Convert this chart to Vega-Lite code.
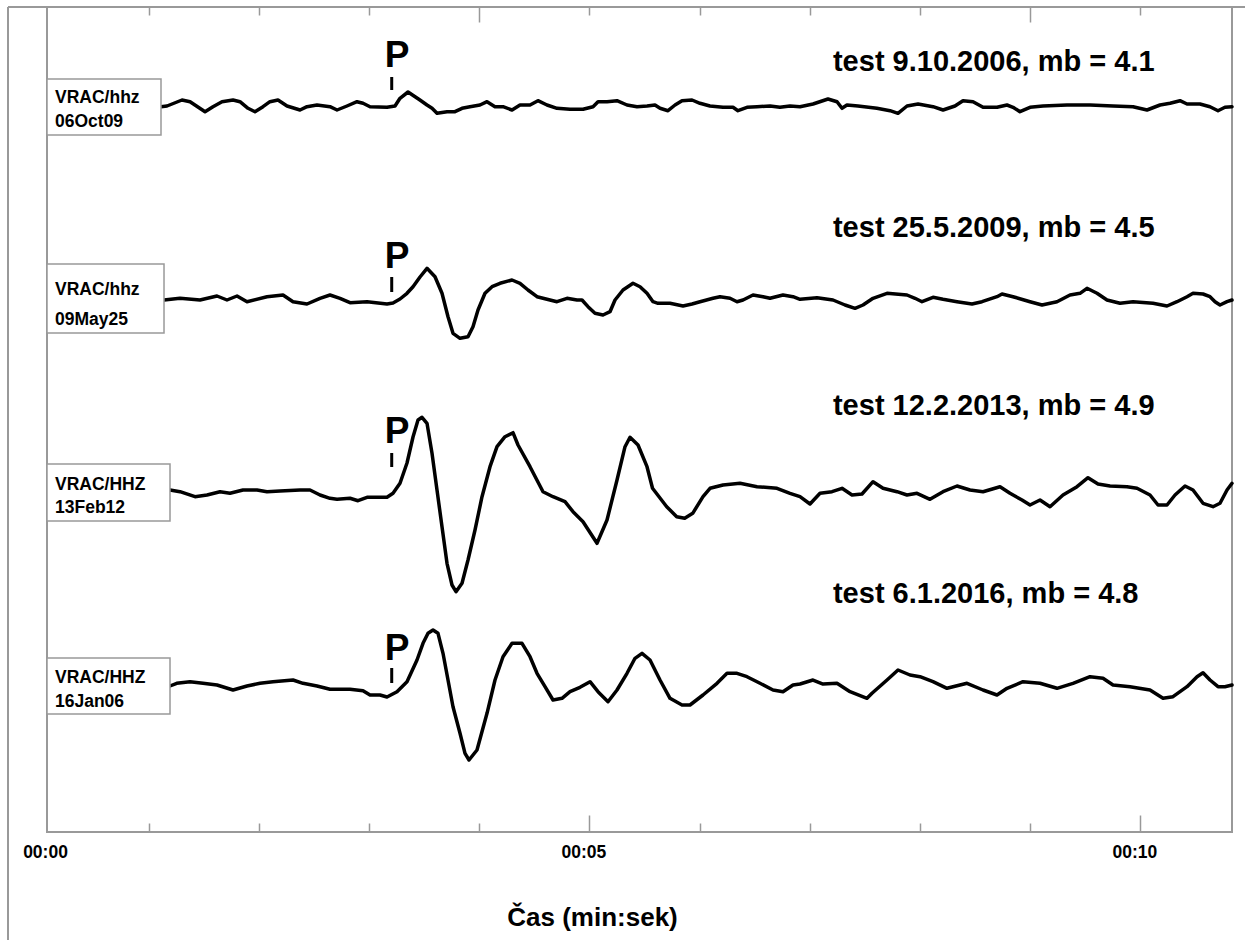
{
  "$schema": "https://vega.github.io/schema/vega-lite/v6.json",
  "width": 1185,
  "height": 825,
  "autosize": {"type": "none"},
  "padding": {"left": 47, "top": 7, "right": 13, "bottom": 108},
  "background": "white",
  "config": {"view": {"stroke": "#999999", "strokeWidth": 2}},
  "datasets": {
    "traces": [
      {"s":"2006","t":1.113,"y":106.7},{"s":"2006","t":1.168,"y":106},{"s":"2006","t":1.304,"y":100},{"s":"2006","t":1.377,"y":101.7},{"s":"2006","t":1.513,"y":111.7},{"s":"2006","t":1.585,"y":106.7},{"s":"2006","t":1.667,"y":101.7},{"s":"2006","t":1.767,"y":100},{"s":"2006","t":1.83,"y":101.7},{"s":"2006","t":1.903,"y":108.3},{"s":"2006","t":1.966,"y":111.7},{"s":"2006","t":2.039,"y":106.7},{"s":"2006","t":2.102,"y":101.7},{"s":"2006","t":2.175,"y":100},{"s":"2006","t":2.257,"y":106},{"s":"2006","t":2.375,"y":110},{"s":"2006","t":2.438,"y":106.7},{"s":"2006","t":2.529,"y":105},{"s":"2006","t":2.647,"y":106.7},{"s":"2006","t":2.711,"y":110},{"s":"2006","t":2.801,"y":106},{"s":"2006","t":2.892,"y":101.7},{"s":"2006","t":2.947,"y":103.3},{"s":"2006","t":3.01,"y":106.7},{"s":"2006","t":3.164,"y":107.3},{"s":"2006","t":3.237,"y":106},{"s":"2006","t":3.282,"y":98.3},{"s":"2006","t":3.355,"y":92},{"s":"2006","t":3.419,"y":96.7},{"s":"2006","t":3.463,"y":100},{"s":"2006","t":3.527,"y":105},{"s":"2006","t":3.573,"y":108.3},{"s":"2006","t":3.618,"y":113.3},{"s":"2006","t":3.709,"y":111.7},{"s":"2006","t":3.781,"y":111.7},{"s":"2006","t":3.845,"y":108.3},{"s":"2006","t":3.917,"y":106.7},{"s":"2006","t":4.008,"y":105},{"s":"2006","t":4.072,"y":101.7},{"s":"2006","t":4.144,"y":106.7},{"s":"2006","t":4.217,"y":106.7},{"s":"2006","t":4.299,"y":110},{"s":"2006","t":4.371,"y":105},{"s":"2006","t":4.462,"y":105},{"s":"2006","t":4.534,"y":100.7},{"s":"2006","t":4.616,"y":105},{"s":"2006","t":4.707,"y":108.3},{"s":"2006","t":4.825,"y":109.3},{"s":"2006","t":4.943,"y":109.3},{"s":"2006","t":5.034,"y":106.7},{"s":"2006","t":5.079,"y":101.7},{"s":"2006","t":5.161,"y":101.7},{"s":"2006","t":5.251,"y":100.7},{"s":"2006","t":5.342,"y":105},{"s":"2006","t":5.433,"y":106.7},{"s":"2006","t":5.524,"y":106},{"s":"2006","t":5.596,"y":105},{"s":"2006","t":5.642,"y":108.3},{"s":"2006","t":5.714,"y":110.7},{"s":"2006","t":5.778,"y":105},{"s":"2006","t":5.841,"y":100.7},{"s":"2006","t":5.932,"y":100},{"s":"2006","t":6.004,"y":103.3},{"s":"2006","t":6.095,"y":106},{"s":"2006","t":6.213,"y":107.3},{"s":"2006","t":6.304,"y":107.3},{"s":"2006","t":6.349,"y":110.7},{"s":"2006","t":6.431,"y":107.3},{"s":"2006","t":6.522,"y":106.7},{"s":"2006","t":6.64,"y":106},{"s":"2006","t":6.73,"y":107.3},{"s":"2006","t":6.821,"y":106},{"s":"2006","t":6.912,"y":106.7},{"s":"2006","t":7.03,"y":104},{"s":"2006","t":7.166,"y":99},{"s":"2006","t":7.248,"y":101.7},{"s":"2006","t":7.293,"y":108.3},{"s":"2006","t":7.338,"y":105},{"s":"2006","t":7.438,"y":106},{"s":"2006","t":7.61,"y":108.3},{"s":"2006","t":7.729,"y":110.7},{"s":"2006","t":7.801,"y":113.3},{"s":"2006","t":7.883,"y":106},{"s":"2006","t":7.983,"y":104},{"s":"2006","t":8.119,"y":106.7},{"s":"2006","t":8.21,"y":110},{"s":"2006","t":8.318,"y":106},{"s":"2006","t":8.391,"y":100.7},{"s":"2006","t":8.482,"y":101.7},{"s":"2006","t":8.573,"y":107.3},{"s":"2006","t":8.7,"y":107.3},{"s":"2006","t":8.79,"y":105},{"s":"2006","t":8.845,"y":107.3},{"s":"2006","t":8.908,"y":111.7},{"s":"2006","t":8.999,"y":107.3},{"s":"2006","t":9.117,"y":106},{"s":"2006","t":9.335,"y":105},{"s":"2006","t":9.544,"y":105},{"s":"2006","t":9.752,"y":106},{"s":"2006","t":9.934,"y":106.7},{"s":"2006","t":10.061,"y":110},{"s":"2006","t":10.179,"y":105},{"s":"2006","t":10.27,"y":103.3},{"s":"2006","t":10.36,"y":100.7},{"s":"2006","t":10.424,"y":104},{"s":"2006","t":10.541,"y":104},{"s":"2006","t":10.632,"y":106.7},{"s":"2006","t":10.705,"y":110.7},{"s":"2006","t":10.768,"y":107.3},{"s":"2006","t":10.832,"y":106.7},

      {"s":"2009","t":1.1407,"y":300},{"s":"2009","t":1.2858,"y":298.3},{"s":"2009","t":1.4673,"y":300},{"s":"2009","t":1.6216,"y":296},{"s":"2009","t":1.7123,"y":300},{"s":"2009","t":1.8031,"y":296},{"s":"2009","t":1.8938,"y":301.7},{"s":"2009","t":2.0753,"y":296.7},{"s":"2009","t":2.2205,"y":295},{"s":"2009","t":2.3112,"y":301.7},{"s":"2009","t":2.4383,"y":304},{"s":"2009","t":2.5563,"y":298.3},{"s":"2009","t":2.647,"y":295},{"s":"2009","t":2.7377,"y":298.3},{"s":"2009","t":2.8285,"y":302.7},{"s":"2009","t":2.9828,"y":301.7},{"s":"2009","t":3.1642,"y":304},{"s":"2009","t":3.2187,"y":303},{"s":"2009","t":3.2822,"y":299},{"s":"2009","t":3.3457,"y":293.3},{"s":"2009","t":3.4002,"y":286.7},{"s":"2009","t":3.4637,"y":277},{"s":"2009","t":3.5272,"y":268.3},{"s":"2009","t":3.5998,"y":276.7},{"s":"2009","t":3.6633,"y":293.3},{"s":"2009","t":3.7178,"y":316.7},{"s":"2009","t":3.7631,"y":333.3},{"s":"2009","t":3.8267,"y":338.3},{"s":"2009","t":3.8993,"y":336.7},{"s":"2009","t":3.9446,"y":326.7},{"s":"2009","t":3.99,"y":310},{"s":"2009","t":4.0535,"y":293.3},{"s":"2009","t":4.1171,"y":286.7},{"s":"2009","t":4.1897,"y":283.3},{"s":"2009","t":4.2986,"y":280},{"s":"2009","t":4.3711,"y":283.3},{"s":"2009","t":4.4437,"y":290},{"s":"2009","t":4.5254,"y":296.7},{"s":"2009","t":4.6161,"y":299.3},{"s":"2009","t":4.7069,"y":301.7},{"s":"2009","t":4.7977,"y":298.3},{"s":"2009","t":4.8884,"y":300},{"s":"2009","t":4.9338,"y":300},{"s":"2009","t":4.9882,"y":306.7},{"s":"2009","t":5.0517,"y":313.3},{"s":"2009","t":5.1243,"y":315},{"s":"2009","t":5.1878,"y":311.7},{"s":"2009","t":5.2332,"y":300},{"s":"2009","t":5.3058,"y":290},{"s":"2009","t":5.3966,"y":283.3},{"s":"2009","t":5.4601,"y":286.7},{"s":"2009","t":5.5236,"y":293.3},{"s":"2009","t":5.5781,"y":301.7},{"s":"2009","t":5.6234,"y":303.3},{"s":"2009","t":5.7323,"y":303.3},{"s":"2009","t":5.8503,"y":306},{"s":"2009","t":5.932,"y":304},{"s":"2009","t":6.0046,"y":301.7},{"s":"2009","t":6.1225,"y":298.3},{"s":"2009","t":6.186,"y":296.7},{"s":"2009","t":6.2768,"y":298.3},{"s":"2009","t":6.3403,"y":301.7},{"s":"2009","t":6.3948,"y":300},{"s":"2009","t":6.4855,"y":295},{"s":"2009","t":6.5762,"y":296.7},{"s":"2009","t":6.6397,"y":298.3},{"s":"2009","t":6.7577,"y":295},{"s":"2009","t":6.8485,"y":296.7},{"s":"2009","t":6.912,"y":299.3},{"s":"2009","t":7.0663,"y":297.7},{"s":"2009","t":7.2114,"y":300},{"s":"2009","t":7.3203,"y":305},{"s":"2009","t":7.4111,"y":308.3},{"s":"2009","t":7.4837,"y":305},{"s":"2009","t":7.5744,"y":298.3},{"s":"2009","t":7.7015,"y":293.3},{"s":"2009","t":7.8829,"y":295},{"s":"2009","t":7.9555,"y":298.3},{"s":"2009","t":8.019,"y":301.7},{"s":"2009","t":8.1188,"y":297.3},{"s":"2009","t":8.2096,"y":299.3},{"s":"2009","t":8.3366,"y":301.7},{"s":"2009","t":8.4728,"y":304},{"s":"2009","t":8.5635,"y":301.7},{"s":"2009","t":8.6996,"y":296.7},{"s":"2009","t":8.745,"y":294},{"s":"2009","t":8.8448,"y":296.7},{"s":"2009","t":8.9991,"y":301.7},{"s":"2009","t":9.108,"y":305},{"s":"2009","t":9.2441,"y":301.7},{"s":"2009","t":9.3621,"y":295},{"s":"2009","t":9.4528,"y":293.3},{"s":"2009","t":9.5163,"y":288.3},{"s":"2009","t":9.6071,"y":293.3},{"s":"2009","t":9.6978,"y":300},{"s":"2009","t":9.8158,"y":303.3},{"s":"2009","t":9.9338,"y":301.7},{"s":"2009","t":10.1152,"y":303.3},{"s":"2009","t":10.2423,"y":306},{"s":"2009","t":10.333,"y":301.7},{"s":"2009","t":10.4238,"y":296.7},{"s":"2009","t":10.4782,"y":293.3},{"s":"2009","t":10.569,"y":294},{"s":"2009","t":10.6325,"y":296.7},{"s":"2009","t":10.6778,"y":301.7},{"s":"2009","t":10.7232,"y":305},{"s":"2009","t":10.7868,"y":301.7},{"s":"2009","t":10.8321,"y":300},

      {"s":"2013","t":1.1951,"y":490},{"s":"2013","t":1.2858,"y":491.7},{"s":"2013","t":1.422,"y":496.7},{"s":"2013","t":1.5309,"y":495},{"s":"2013","t":1.6488,"y":491.7},{"s":"2013","t":1.7396,"y":493.3},{"s":"2013","t":1.8575,"y":490},{"s":"2013","t":1.9846,"y":490},{"s":"2013","t":2.0753,"y":491.7},{"s":"2013","t":2.1933,"y":491},{"s":"2013","t":2.3748,"y":490},{"s":"2013","t":2.4655,"y":490},{"s":"2013","t":2.5563,"y":495},{"s":"2013","t":2.647,"y":498.3},{"s":"2013","t":2.7105,"y":499.3},{"s":"2013","t":2.8285,"y":498.3},{"s":"2013","t":2.9011,"y":500.7},{"s":"2013","t":2.9828,"y":497.3},{"s":"2013","t":3.0735,"y":497.3},{"s":"2013","t":3.1642,"y":497.3},{"s":"2013","t":3.2187,"y":493.3},{"s":"2013","t":3.2822,"y":483.3},{"s":"2013","t":3.3457,"y":463},{"s":"2013","t":3.4002,"y":437},{"s":"2013","t":3.4456,"y":420},{"s":"2013","t":3.4819,"y":417.3},{"s":"2013","t":3.5272,"y":423.3},{"s":"2013","t":3.5726,"y":453.3},{"s":"2013","t":3.6179,"y":490},{"s":"2013","t":3.6633,"y":526.7},{"s":"2013","t":3.7087,"y":563.3},{"s":"2013","t":3.754,"y":585},{"s":"2013","t":3.7904,"y":591.7},{"s":"2013","t":3.8449,"y":583.3},{"s":"2013","t":3.8993,"y":560},{"s":"2013","t":3.9628,"y":530},{"s":"2013","t":4.0263,"y":496.7},{"s":"2013","t":4.0989,"y":466.7},{"s":"2013","t":4.1624,"y":446.7},{"s":"2013","t":4.235,"y":436.7},{"s":"2013","t":4.3076,"y":432.7},{"s":"2013","t":4.353,"y":445},{"s":"2013","t":4.4619,"y":466.7},{"s":"2013","t":4.5799,"y":491.7},{"s":"2013","t":4.6706,"y":496.7},{"s":"2013","t":4.7795,"y":501.7},{"s":"2013","t":4.8521,"y":511.7},{"s":"2013","t":4.9429,"y":521.7},{"s":"2013","t":5.0699,"y":543.3},{"s":"2013","t":5.1607,"y":520},{"s":"2013","t":5.2514,"y":480},{"s":"2013","t":5.324,"y":446.7},{"s":"2013","t":5.3694,"y":437.3},{"s":"2013","t":5.442,"y":445},{"s":"2013","t":5.5236,"y":466.7},{"s":"2013","t":5.5735,"y":488.3},{"s":"2013","t":5.7024,"y":506.7},{"s":"2013","t":5.7931,"y":516.7},{"s":"2013","t":5.8657,"y":518.3},{"s":"2013","t":5.9383,"y":513.3},{"s":"2013","t":6.0318,"y":496.7},{"s":"2013","t":6.0953,"y":488.3},{"s":"2013","t":6.2133,"y":485},{"s":"2013","t":6.3675,"y":483.3},{"s":"2013","t":6.5218,"y":486.7},{"s":"2013","t":6.7032,"y":488.3},{"s":"2013","t":6.8212,"y":493.3},{"s":"2013","t":6.912,"y":496.7},{"s":"2013","t":7.0027,"y":504},{"s":"2013","t":7.0935,"y":493.3},{"s":"2013","t":7.2024,"y":491.7},{"s":"2013","t":7.2931,"y":488.3},{"s":"2013","t":7.3839,"y":495},{"s":"2013","t":7.4746,"y":494},{"s":"2013","t":7.5744,"y":481.7},{"s":"2013","t":7.6652,"y":488.3},{"s":"2013","t":7.7922,"y":491.7},{"s":"2013","t":7.8829,"y":495},{"s":"2013","t":7.9737,"y":493.3},{"s":"2013","t":8.0916,"y":499.3},{"s":"2013","t":8.2096,"y":491.7},{"s":"2013","t":8.3366,"y":486},{"s":"2013","t":8.4546,"y":490},{"s":"2013","t":8.5726,"y":491.7},{"s":"2013","t":8.7269,"y":486.7},{"s":"2013","t":8.8176,"y":493.3},{"s":"2013","t":8.9265,"y":500},{"s":"2013","t":8.9991,"y":505},{"s":"2013","t":9.0898,"y":500},{"s":"2013","t":9.1806,"y":506.7},{"s":"2013","t":9.2985,"y":495},{"s":"2013","t":9.4256,"y":486.7},{"s":"2013","t":9.5254,"y":477.7},{"s":"2013","t":9.6162,"y":484},{"s":"2013","t":9.7251,"y":486},{"s":"2013","t":9.8793,"y":486.7},{"s":"2013","t":9.9701,"y":488.3},{"s":"2013","t":10.088,"y":495},{"s":"2013","t":10.1606,"y":505},{"s":"2013","t":10.2423,"y":505},{"s":"2013","t":10.3149,"y":495},{"s":"2013","t":10.4057,"y":486},{"s":"2013","t":10.4782,"y":490},{"s":"2013","t":10.569,"y":503.3},{"s":"2013","t":10.6597,"y":506.7},{"s":"2013","t":10.7232,"y":503.3},{"s":"2013","t":10.7868,"y":490},{"s":"2013","t":10.8321,"y":483.3},

      {"s":"2016","t":1.1951,"y":686},{"s":"2016","t":1.2559,"y":683.3},{"s":"2016","t":1.3766,"y":681.7},{"s":"2016","t":1.4946,"y":683.3},{"s":"2016","t":1.6216,"y":685},{"s":"2016","t":1.7668,"y":690},{"s":"2016","t":1.8938,"y":686},{"s":"2016","t":2.0118,"y":683.3},{"s":"2016","t":2.1298,"y":681.7},{"s":"2016","t":2.3112,"y":680},{"s":"2016","t":2.402,"y":683.3},{"s":"2016","t":2.529,"y":686},{"s":"2016","t":2.647,"y":689.3},{"s":"2016","t":2.8285,"y":689.3},{"s":"2016","t":2.9465,"y":690.7},{"s":"2016","t":3.01,"y":695},{"s":"2016","t":3.1007,"y":695},{"s":"2016","t":3.1642,"y":697},{"s":"2016","t":3.255,"y":691.7},{"s":"2016","t":3.3457,"y":681.7},{"s":"2016","t":3.4365,"y":660},{"s":"2016","t":3.4909,"y":643.3},{"s":"2016","t":3.5363,"y":633.3},{"s":"2016","t":3.5817,"y":630},{"s":"2016","t":3.627,"y":633.3},{"s":"2016","t":3.6724,"y":653.3},{"s":"2016","t":3.7178,"y":680},{"s":"2016","t":3.7631,"y":706.7},{"s":"2016","t":3.8267,"y":733.3},{"s":"2016","t":3.8721,"y":753.3},{"s":"2016","t":3.9084,"y":760},{"s":"2016","t":3.9809,"y":750},{"s":"2016","t":4.0717,"y":713.3},{"s":"2016","t":4.1443,"y":680},{"s":"2016","t":4.2169,"y":656.7},{"s":"2016","t":4.2986,"y":643.3},{"s":"2016","t":4.3893,"y":643.3},{"s":"2016","t":4.4619,"y":656.7},{"s":"2016","t":4.5254,"y":673.3},{"s":"2016","t":4.598,"y":686.7},{"s":"2016","t":4.6706,"y":700},{"s":"2016","t":4.7523,"y":698.3},{"s":"2016","t":4.8249,"y":691.7},{"s":"2016","t":4.9156,"y":687.3},{"s":"2016","t":5.0064,"y":681.7},{"s":"2016","t":5.0789,"y":691.7},{"s":"2016","t":5.1697,"y":701.7},{"s":"2016","t":5.2514,"y":690},{"s":"2016","t":5.3421,"y":673.3},{"s":"2016","t":5.4147,"y":658.3},{"s":"2016","t":5.4782,"y":653.3},{"s":"2016","t":5.5508,"y":660},{"s":"2016","t":5.6415,"y":680},{"s":"2016","t":5.7323,"y":698.3},{"s":"2016","t":5.8412,"y":705},{"s":"2016","t":5.9138,"y":705},{"s":"2016","t":6.0318,"y":695},{"s":"2016","t":6.1588,"y":683.3},{"s":"2016","t":6.2495,"y":673.3},{"s":"2016","t":6.3403,"y":673.3},{"s":"2016","t":6.431,"y":676.7},{"s":"2016","t":6.549,"y":683.3},{"s":"2016","t":6.667,"y":690},{"s":"2016","t":6.7577,"y":691.7},{"s":"2016","t":6.8485,"y":685},{"s":"2016","t":6.912,"y":684},{"s":"2016","t":7.0299,"y":680},{"s":"2016","t":7.1207,"y":684},{"s":"2016","t":7.2477,"y":683.3},{"s":"2016","t":7.3657,"y":691.7},{"s":"2016","t":7.52,"y":698.3},{"s":"2016","t":7.5653,"y":693.3},{"s":"2016","t":7.7015,"y":680},{"s":"2016","t":7.8013,"y":670},{"s":"2016","t":7.91,"y":675},{"s":"2016","t":8.0009,"y":676.7},{"s":"2016","t":8.1188,"y":681.7},{"s":"2016","t":8.2459,"y":688.3},{"s":"2016","t":8.4274,"y":683.3},{"s":"2016","t":8.5726,"y":690},{"s":"2016","t":8.6996,"y":695},{"s":"2016","t":8.7904,"y":688.3},{"s":"2016","t":8.9356,"y":681.7},{"s":"2016","t":9.0898,"y":683.3},{"s":"2016","t":9.2441,"y":688.3},{"s":"2016","t":9.3893,"y":683.3},{"s":"2016","t":9.5436,"y":676.7},{"s":"2016","t":9.6615,"y":678.3},{"s":"2016","t":9.7523,"y":685},{"s":"2016","t":9.9066,"y":686.7},{"s":"2016","t":10.088,"y":690},{"s":"2016","t":10.206,"y":698.3},{"s":"2016","t":10.2967,"y":696.7},{"s":"2016","t":10.4238,"y":686.7},{"s":"2016","t":10.5148,"y":676.7},{"s":"2016","t":10.569,"y":672.7},{"s":"2016","t":10.6325,"y":680},{"s":"2016","t":10.7051,"y":686.7},{"s":"2016","t":10.7677,"y":686.7},{"s":"2016","t":10.8321,"y":685}
    ],
    "stations": [
      {"ch":"VRAC/hhz","date":"06Oct09","t":0.0789,"t2":1.1134,"y":79,"y2":135,"ya":103,"yb":127},
      {"ch":"VRAC/hhz","date":"09May25","t":0.0789,"t2":1.1407,"y":264,"y2":333,"ya":295,"yb":325},
      {"ch":"VRAC/HHZ","date":"13Feb12","t":0.0789,"t2":1.1951,"y":464,"y2":521,"ya":490,"yb":513},
      {"ch":"VRAC/HHZ","date":"16Jan06","t":0.0789,"t2":1.1951,"y":658,"y2":714,"ya":683,"yb":707}
    ],
    "events": [
      {"label":"test 9.10.2006, mb = 4.1","t":7.211,"y":71},
      {"label":"test 25.5.2009, mb = 4.5","t":7.211,"y":237},
      {"label":"test 12.2.2013, mb = 4.9","t":7.211,"y":415},
      {"label":"test 6.1.2016, mb = 4.8","t":7.211,"y":603}
    ],
    "picks": [
      {"t":3.207,"yl":67,"y":77,"y2":90},
      {"t":3.207,"yl":268,"y":277,"y2":292},
      {"t":3.207,"yl":443,"y":453,"y2":467},
      {"t":3.207,"yl":660,"y":668,"y2":683}
    ],
    "frame": [
      {"t":-0.275,"t2":-0.275,"y":7,"y2":940},
      {"t":-0.275,"t2":10.95,"y":7,"y2":7}
    ]
  },
  "layer": [
    {
      "data": {"name": "traces"},
      "mark": {"type": "line", "color": "#000000", "strokeWidth": 3.5, "strokeJoin": "round", "strokeCap": "round"},
      "encoding": {
        "x": {
          "field": "t", "type": "quantitative",
          "scale": {"domain": [0.0789, 10.832], "nice": false, "zero": false},
          "axis": {
            "orient": "bottom",
            "values": [0.0789, 1, 2, 3, 4, 5, 6, 7, 8, 9, 10],
            "labelExpr": "datum.value < 0.5 ? '00:00' : (datum.value == 5 ? '00:05' : (datum.value == 10 ? '00:10' : ''))",
            "labelFlush": false,
            "labelOverlap": false,
            "labelFont": "Liberation Sans",
            "labelFontSize": 17.5,
            "labelFontWeight": "bold",
            "labelColor": "#000000",
            "labelPadding": 2,
            "tickSize": 9,
            "tickColor": "#999999",
            "tickWidth": 1.5,
            "domain": false,
            "grid": true,
            "gridColor": "#999999",
            "gridWidth": 1.5,
            "gridOpacity": 1,
            "title": "Čas (min:sek)",
            "titleFont": "Liberation Sans",
            "titleFontSize": 26,
            "titleFontWeight": "bold",
            "titleColor": "#000000",
            "titleX": 545,
            "titleY": 93,
            "titleBaseline": "alphabetic",
            "encoding": {
              "ticks": {"y2": {"value": {"expr": "datum.value < 0.5 ? 0 : (datum.value % 5 === 0 ? -17 : -9)"}}},
              "grid": {"y": {"value": -825}, "y2": {"value": {"expr": "datum.value < 0.5 ? -825 : (datum.value == 4 || datum.value == 9 ? -810 : -817)"}}},
              "labels": {"dx": {"value": {"expr": "datum.value < 0.5 ? -2 : -6"}}}
            }
          }
        },
        "y": {"field": "y", "type": "quantitative", "scale": {"domain": [7, 832], "reverse": true, "nice": false, "zero": false}, "axis": null},
        "detail": {"field": "s", "type": "nominal"}
      }
    },
    {
      "data": {"name": "frame"},
      "mark": {"type": "rule", "color": "#999999", "strokeWidth": 2},
      "encoding": {
        "x": {"field": "t", "type": "quantitative", "scale": {"domain": [0.0789, 10.832], "nice": false, "zero": false}},
        "x2": {"field": "t2"},
        "y": {"field": "y", "type": "quantitative", "scale": {"domain": [7, 832], "reverse": true, "nice": false, "zero": false}, "axis": null},
        "y2": {"field": "y2"}
      }
    },
    {
      "data": {"name": "stations"},
      "mark": {"type": "rect", "fill": "#ffffff", "stroke": "#999999", "strokeWidth": 1.5},
      "encoding": {
        "x": {"field": "t", "type": "quantitative", "scale": {"domain": [0.0789, 10.832], "nice": false, "zero": false}},
        "x2": {"field": "t2"},
        "y": {"field": "y", "type": "quantitative", "scale": {"domain": [7, 832], "reverse": true, "nice": false, "zero": false}, "axis": null},
        "y2": {"field": "y2"}
      }
    },
    {
      "data": {"name": "stations"},
      "mark": {"type": "text", "align": "left", "baseline": "alphabetic", "dx": 8, "font": "Liberation Sans", "fontSize": 17.5, "fontWeight": "bold", "color": "#000000"},
      "encoding": {
        "x": {"field": "t", "type": "quantitative", "scale": {"domain": [0.0789, 10.832], "nice": false, "zero": false}},
        "y": {"field": "ya", "type": "quantitative", "scale": {"domain": [7, 832], "reverse": true, "nice": false, "zero": false}, "axis": null},
        "text": {"field": "ch", "type": "nominal"}
      }
    },
    {
      "data": {"name": "stations"},
      "mark": {"type": "text", "align": "left", "baseline": "alphabetic", "dx": 8, "font": "Liberation Sans", "fontSize": 17.5, "fontWeight": "bold", "color": "#000000"},
      "encoding": {
        "x": {"field": "t", "type": "quantitative", "scale": {"domain": [0.0789, 10.832], "nice": false, "zero": false}},
        "y": {"field": "yb", "type": "quantitative", "scale": {"domain": [7, 832], "reverse": true, "nice": false, "zero": false}, "axis": null},
        "text": {"field": "date", "type": "nominal"}
      }
    },
    {
      "data": {"name": "events"},
      "mark": {"type": "text", "align": "left", "baseline": "alphabetic", "font": "Liberation Sans", "fontSize": 29, "fontWeight": "bold", "color": "#000000"},
      "encoding": {
        "x": {"field": "t", "type": "quantitative", "scale": {"domain": [0.0789, 10.832], "nice": false, "zero": false}},
        "y": {"field": "y", "type": "quantitative", "scale": {"domain": [7, 832], "reverse": true, "nice": false, "zero": false}, "axis": null},
        "text": {"field": "label", "type": "nominal"}
      }
    },
    {
      "data": {"name": "picks"},
      "mark": {"type": "text", "align": "left", "baseline": "alphabetic", "dx": -7, "font": "Liberation Sans", "fontSize": 37, "fontWeight": "bold", "color": "#000000", "text": "P"},
      "encoding": {
        "x": {"field": "t", "type": "quantitative", "scale": {"domain": [0.0789, 10.832], "nice": false, "zero": false}},
        "y": {"field": "yl", "type": "quantitative", "scale": {"domain": [7, 832], "reverse": true, "nice": false, "zero": false}, "axis": null}
      }
    },
    {
      "data": {"name": "picks"},
      "mark": {"type": "rule", "color": "#000000", "strokeWidth": 3},
      "encoding": {
        "x": {"field": "t", "type": "quantitative", "scale": {"domain": [0.0789, 10.832], "nice": false, "zero": false}},
        "y": {"field": "y", "type": "quantitative", "scale": {"domain": [7, 832], "reverse": true, "nice": false, "zero": false}, "axis": null},
        "y2": {"field": "y2"}
      }
    }
  ]
}
